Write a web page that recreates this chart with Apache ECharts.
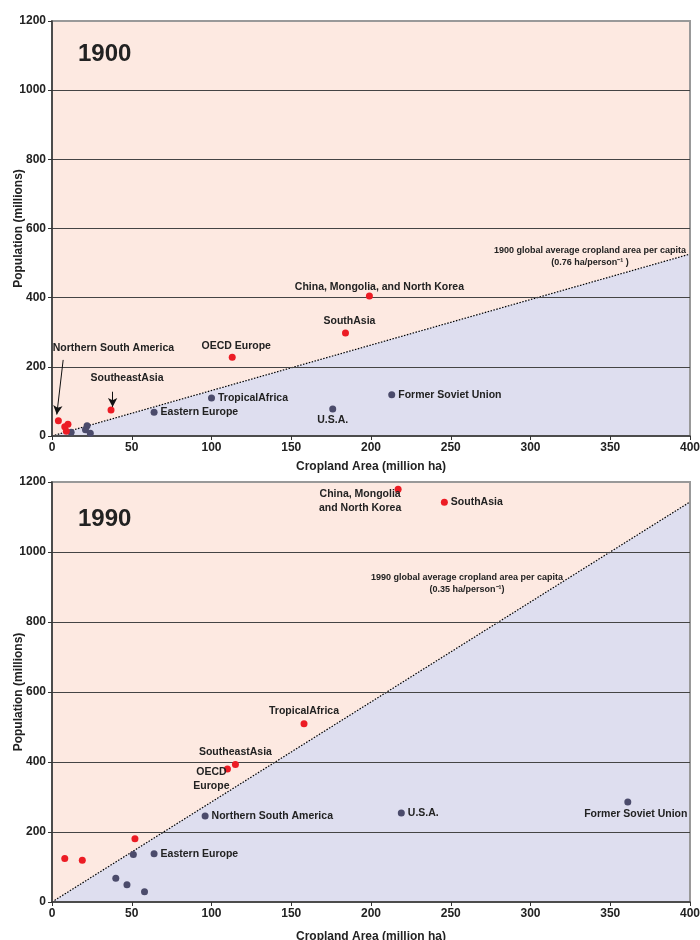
<!DOCTYPE html>
<html>
<head>
<meta charset="utf-8">
<script src="https://cdn.jsdelivr.net/npm/echarts@6/dist/echarts.min.js"></script>
<style>
  html, body { margin: 0; padding: 0; background: #fff; }
  #main { width: 700px; height: 940px; }
</style>
</head>
<body>
<div id="main"></div>
<script>
// axis ticks
var xTicks = [0, 50, 100, 150, 200, 250, 300, 350, 400];
var yTicks = [0, 200, 400, 600, 800, 1000, 1200];

// 1900 panel
var red1900Names = ['China, Mongolia, and North Korea', 'SouthAsia', 'OECD Europe', 'SoutheastAsia', 'Northern South America', '', '', ''];
var red1900X = [199, 184, 113, 37, 4, 10, 8, 9];
var red1900Y = [405, 298, 228, 75, 44, 34, 27, 14];
var dark1900Names = ['Former Soviet Union', 'U.S.A.', 'TropicalAfrica', 'Eastern Europe', '', '', '', ''];
var dark1900X = [213, 176, 100, 64, 22, 21, 24, 12];
var dark1900Y = [119, 78, 110, 69, 30, 18, 8, 11];
var avg1900 = [[0, 0], [400, 526]];

// 1990 panel
var red1990Names = ['China, Mongolia\nand North Korea', 'SouthAsia', 'TropicalAfrica', 'SoutheastAsia', 'OECD\nEurope', '', '', ''];
var red1990X = [217, 246, 158, 115, 110, 52, 8, 19];
var red1990Y = [1179, 1142, 509, 393, 380, 181, 124, 119];
var dark1990Names = ['Former Soviet Union', 'U.S.A.', 'Northern South America', 'Eastern Europe', '', '', '', ''];
var dark1990X = [361, 219, 96, 64, 51, 40, 47, 58];
var dark1990Y = [286, 254, 246, 138, 136, 68, 49, 29];
var avg1990 = [[0, 0], [400, 1143]];

var FONT = '"Liberation Sans", Arial, sans-serif';
var PEACH = '#fde9e1';
var LAVENDER = '#dedeef';
var RED = '#ec1c24';
var DARK = '#4b4b6b';

// where each label sits relative to its point
var labelPos = {
  'China, Mongolia, and North Korea': { position: 'top', distance: 0, offset: [10, 2] },
  'SouthAsia|1900': { position: 'top', distance: 1, offset: [4, 0] },
  'OECD Europe': { position: 'top', distance: 1, offset: [4, 0] },
  'SoutheastAsia|1900': { position: 'top', distance: 2, offset: [16, -19] },
  'Northern South America|1900': { position: 'top', distance: 2, offset: [55, -60] },
  'Former Soviet Union|1900': { position: 'right', distance: 3 },
  'U.S.A.|1900': { position: 'bottom', distance: 1 },
  'TropicalAfrica|1900': { position: 'right', distance: 3 },
  'Eastern Europe|1900': { position: 'right', distance: 3 },
  'China, Mongolia\nand North Korea': { position: 'inside', offset: [-38, 12] },
  'SouthAsia|1990': { position: 'right', distance: 3 },
  'TropicalAfrica|1990': { position: 'top', distance: 2 },
  'SoutheastAsia|1990': { position: 'top', distance: 2 },
  'OECD\nEurope': { position: 'inside', offset: [-16, 10] },
  'Former Soviet Union|1990': { position: 'bottom', distance: 2, offset: [8, 0] },
  'U.S.A.|1990': { position: 'right', distance: 3 },
  'Northern South America|1990': { position: 'right', distance: 3 },
  'Eastern Europe|1990': { position: 'right', distance: 3 }
};

function points(names, xs, ys, year) {
  return xs.map(function (x, i) {
    var item = { value: [x, ys[i]], name: names[i] };
    var pos = labelPos[names[i] + '|' + year] || labelPos[names[i]];
    if (names[i] && pos) {
      item.label = Object.assign({ show: true }, pos);
    }
    return item;
  });
}

var pointLabel = {
  show: false,
  formatter: '{b}',
  color: '#222',
  fontFamily: FONT,
  fontWeight: 'bold',
  fontSize: 10.5,
  lineHeight: 14
};

function plain(v) { return String(v); }

function xAxisFor(gridIndex, gap) {
  return {
    gridIndex: gridIndex,
    type: 'value',
    min: xTicks[0],
    max: xTicks[xTicks.length - 1],
    interval: 50,
    name: 'Cropland Area (million ha)',
    nameLocation: 'middle',
    nameGap: gap,
    nameMoveOverlap: false,
    nameTextStyle: { fontFamily: FONT, fontWeight: 'bold', fontSize: 12, color: '#222' },
    axisLine: { lineStyle: { color: '#333', width: 1.5 } },
    axisTick: { show: true, length: 4, lineStyle: { color: '#333' } },
    axisLabel: { margin: 6, formatter: plain, fontFamily: FONT, fontWeight: 'bold', fontSize: 12, color: '#222' },
    splitLine: { show: false },
    z: 1
  };
}

function yAxisFor(gridIndex) {
  return {
    gridIndex: gridIndex,
    type: 'value',
    min: yTicks[0],
    max: yTicks[yTicks.length - 1],
    interval: 200,
    name: 'Population (millions)',
    nameLocation: 'middle',
    nameGap: 27,
    nameRotate: 90,
    nameMoveOverlap: false,
    nameTextStyle: { fontFamily: FONT, fontWeight: 'bold', fontSize: 12, color: '#222' },
    axisLine: { show: true, lineStyle: { color: '#333', width: 1.5 } },
    axisTick: { show: true, length: 4, lineStyle: { color: '#333' } },
    axisLabel: { margin: 6, formatter: plain, fontFamily: FONT, fontWeight: 'bold', fontSize: 12, color: '#222' },
    splitLine: { show: true, showMinLine: false, showMaxLine: false, lineStyle: { color: '#444', width: 1 } },
    z: 1
  };
}

function areaSeries(idx, data, origin, color, withLine) {
  return {
    type: 'line',
    xAxisIndex: idx,
    yAxisIndex: idx,
    data: data,
    showSymbol: false,
    silent: true,
    z: 0,
    lineStyle: withLine ? { color: '#000', width: 1.2, type: [1.5, 1.5] } : { width: 0 },
    areaStyle: { color: color, opacity: 1, origin: origin }
  };
}

function scatterSeries(idx, data, color, extra) {
  return Object.assign({
    type: 'scatter',
    xAxisIndex: idx,
    yAxisIndex: idx,
    data: data,
    symbolSize: 7,
    itemStyle: { color: color, opacity: 1 },
    label: pointLabel,
    z: 3
  }, extra || {});
}

var arrowLine = {
  silent: true,
  symbol: ['none', 'arrow'],
  symbolSize: [7, 9],
  label: { show: false },
  lineStyle: { color: '#111', width: 1, type: 'solid', opacity: 1 },
  data: [
    [{ coord: [7, 220] }, { coord: [3, 62] }],
    [{ coord: [38, 128] }, { coord: [38, 84] }]
  ]
};

var chart = echarts.init(document.getElementById('main'), null, { renderer: 'canvas' });

var gridBase = { left: 52, width: 638, show: true, backgroundColor: 'transparent', borderColor: '#999', borderWidth: 2, z: 1, containLabel: false, outerBoundsMode: 'none' };

var option = {
  backgroundColor: '#fff',
  animation: false,
  title: [
    { text: '1900', left: 78, top: 42, padding: 0, textStyle: { fontFamily: FONT, fontSize: 24, fontWeight: 'bold', color: '#222' } },
    { text: '1990', left: 78, top: 507, padding: 0, textStyle: { fontFamily: FONT, fontSize: 24, fontWeight: 'bold', color: '#222' } }
  ],
  grid: [
    Object.assign({ top: 21, height: 415 }, gridBase),
    Object.assign({ top: 482, height: 420 }, gridBase)
  ],
  xAxis: [xAxisFor(0, 25), xAxisFor(1, 29)],
  yAxis: [yAxisFor(0), yAxisFor(1)],
  graphic: [
    {
      type: 'text', x: 590, y: 257, z: 5,
      style: {
        text: '1900 global average cropland area per capita\n(0.76 ha/person\u207B\u00B9 )',
        align: 'center', verticalAlign: 'middle', lineHeight: 12,
        fontFamily: FONT, fontSize: 9, fontWeight: 'bold', fill: '#222'
      }
    },
    {
      type: 'text', x: 467, y: 584, z: 5,
      style: {
        text: '1990 global average cropland area per capita\n(0.35 ha/person\u207B\u00B9)',
        align: 'center', verticalAlign: 'middle', lineHeight: 12,
        fontFamily: FONT, fontSize: 9, fontWeight: 'bold', fill: '#222'
      }
    }
  ],
  series: [
    areaSeries(0, avg1900, 'end', PEACH, false),
    areaSeries(0, avg1900, 'start', LAVENDER, true),
    areaSeries(1, avg1990, 'end', PEACH, false),
    areaSeries(1, avg1990, 'start', LAVENDER, true),
    scatterSeries(0, points(dark1900Names, dark1900X, dark1900Y, 1900), DARK),
    scatterSeries(0, points(red1900Names, red1900X, red1900Y, 1900), RED, { markLine: arrowLine }),
    scatterSeries(1, points(dark1990Names, dark1990X, dark1990Y, 1990), DARK),
    scatterSeries(1, points(red1990Names, red1990X, red1990Y, 1990), RED)
  ]
};

chart.setOption(option);
</script>
</body>
</html>
